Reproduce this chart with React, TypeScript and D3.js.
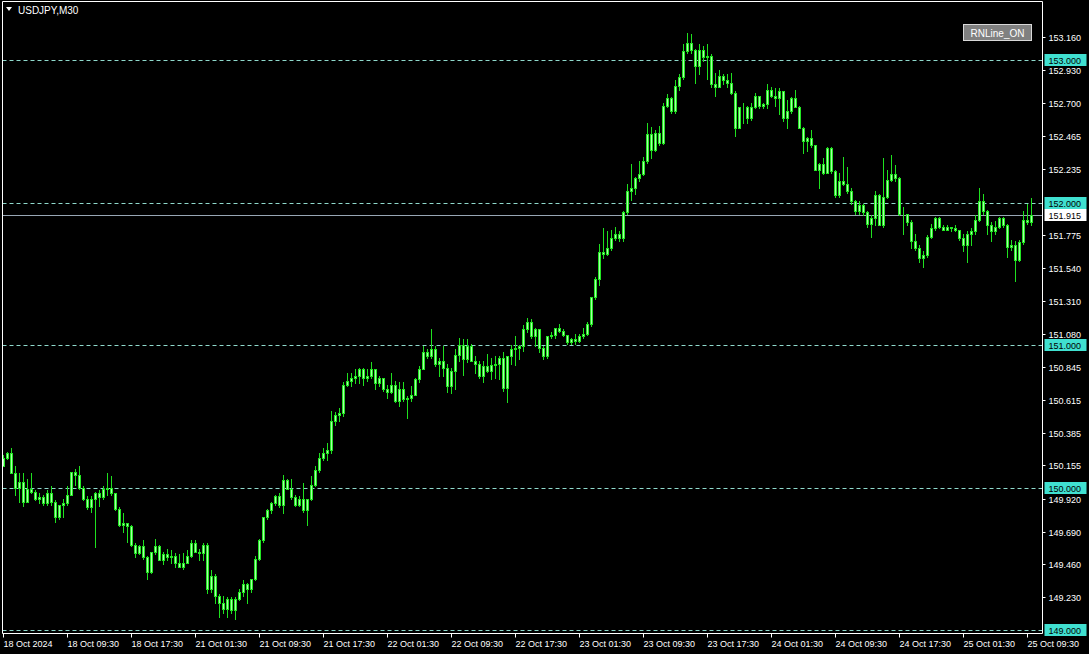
import React, { useEffect, useRef } from 'react';
import * as d3 from 'd3';

// USDJPY M30, 18 Oct 2024 01:30 -> 25 Oct 2024 10:30
const firstOpen = 150.15;
const closes = [
  150.21, 150.24, 150.10, 150.00, 150.04, 149.90, 149.99, 149.97, 149.92, 149.93,
  149.89, 149.96, 149.90, 149.79, 149.88, 149.89, 149.95, 150.11, 150.09, 150.00,
  149.92, 149.86, 149.92, 149.96, 149.93, 149.99, 150.00, 149.96, 149.85, 149.74,
  149.75, 149.73, 149.60, 149.54, 149.59, 149.51, 149.41, 149.55, 149.59, 149.49,
  149.53, 149.51, 149.52, 149.47, 149.44, 149.47, 149.52, 149.61, 149.55, 149.54,
  149.60, 149.29, 149.38, 149.24, 149.19, 149.15, 149.22, 149.14, 149.22, 149.27,
  149.32, 149.29, 149.36, 149.50, 149.63, 149.79, 149.84, 149.89, 149.94, 149.88,
  150.05, 149.99, 149.93, 149.88, 149.92, 149.84, 149.92, 150.02, 150.12, 150.21,
  150.24, 150.26, 150.47, 150.51, 150.52, 150.72, 150.75, 150.77, 150.78, 150.83,
  150.77, 150.78, 150.83, 150.73, 150.77, 150.69, 150.67, 150.72, 150.61, 150.69,
  150.62, 150.63, 150.65, 150.76, 150.83, 150.95, 150.92, 150.97, 150.87, 150.89,
  150.84, 150.71, 150.82, 150.93, 151.00, 150.90, 150.99, 150.89, 150.87, 150.78,
  150.85, 150.82, 150.86, 150.87, 150.91, 150.70, 150.92, 150.97, 150.98, 150.99,
  151.11, 151.16, 151.06, 151.11, 150.98, 150.92, 151.06, 151.07, 151.12, 151.10,
  151.07, 151.02, 151.04, 151.03, 151.06, 151.08, 151.15, 151.34, 151.46, 151.65,
  151.64, 151.68, 151.75, 151.78, 151.75, 151.93, 152.08, 152.10, 152.17, 152.20,
  152.29, 152.48, 152.37, 152.49, 152.42, 152.68, 152.73, 152.64, 152.82, 152.88,
  153.06, 153.12, 153.07, 152.96, 153.07, 153.02, 153.03, 152.83, 152.81, 152.89,
  152.86, 152.84, 152.77, 152.52, 152.67, 152.67, 152.59, 152.67, 152.75, 152.68,
  152.69, 152.79, 152.75, 152.73, 152.78, 152.59, 152.64, 152.73, 152.67, 152.52,
  152.43, 152.45, 152.40, 152.23, 152.27, 152.21, 152.38, 152.22, 152.05, 152.15,
  152.13, 152.08, 152.01, 151.94, 151.98, 151.93, 151.85, 151.89, 152.05, 151.84,
  152.04, 152.16, 152.20, 152.17, 151.92, 151.92, 151.86, 151.73, 151.68, 151.61,
  151.63, 151.76, 151.82, 151.89, 151.83, 151.81, 151.83, 151.82, 151.81, 151.75,
  151.70, 151.78, 151.80, 151.88, 152.01, 151.94, 151.84, 151.80, 151.83, 151.89,
  151.84, 151.69, 151.70, 151.60, 151.72, 151.88, 151.86, 151.915,
];
const highs = [
  150.23, 150.25, 150.28, 150.15, 150.10, 150.10, 150.06, 150.10, 149.98, 149.96,
  149.95, 149.98, 150.01, 149.91, 149.88, 149.92, 150.01, 150.11, 150.13, 150.15,
  150.01, 149.94, 149.94, 149.97, 149.98, 150.01, 150.10, 150.08, 149.96, 149.86,
  149.82, 149.74, 149.74, 149.61, 149.60, 149.63, 149.52, 149.55, 149.64, 149.60,
  149.55, 149.57, 149.56, 149.54, 149.53, 149.54, 149.56, 149.63, 149.63, 149.57,
  149.61, 149.61, 149.42, 149.39, 149.25, 149.24, 149.23, 149.23, 149.23, 149.29,
  149.35, 149.33, 149.36, 149.52, 149.64, 149.79, 149.85, 149.90, 149.95, 149.96,
  150.09, 150.06, 150.06, 149.95, 149.94, 150.03, 149.92, 150.08, 150.15, 150.24,
  150.28, 150.31, 150.54, 150.53, 150.56, 150.74, 150.80, 150.80, 150.83, 150.84,
  150.84, 150.83, 150.88, 150.78, 150.78, 150.74, 150.72, 150.80, 150.75, 150.74,
  150.74, 150.64, 150.71, 150.77, 150.85, 150.99, 150.97, 151.11, 150.99, 150.91,
  150.99, 150.87, 150.84, 150.97, 151.05, 151.04, 151.04, 151.01, 150.92, 150.89,
  150.89, 150.94, 150.91, 150.92, 150.92, 150.95, 150.92, 151.00, 151.06, 151.00,
  151.14, 151.19, 151.18, 151.12, 151.11, 150.99, 151.06, 151.09, 151.12, 151.15,
  151.11, 151.04, 151.05, 151.08, 151.08, 151.12, 151.16, 151.34, 151.48, 151.71,
  151.82, 151.80, 151.81, 151.83, 151.80, 151.94, 152.13, 152.27, 152.18, 152.29,
  152.32, 152.56, 152.53, 152.51, 152.54, 152.70, 152.76, 152.74, 152.86, 152.90,
  153.11, 153.19, 153.18, 153.08, 153.11, 153.10, 153.11, 153.04, 152.91, 152.93,
  152.90, 152.90, 152.91, 152.78, 152.67, 152.70, 152.68, 152.70, 152.77, 152.70,
  152.70, 152.83, 152.81, 152.80, 152.80, 152.78, 152.72, 152.74, 152.79, 152.68,
  152.53, 152.46, 152.51, 152.40, 152.28, 152.31, 152.39, 152.39, 152.23, 152.21,
  152.32, 152.25, 152.10, 152.02, 152.01, 151.99, 151.94, 151.91, 152.08, 152.06,
  152.31, 152.23, 152.33, 152.26, 152.18, 151.97, 151.92, 151.88, 151.78, 151.70,
  151.66, 151.77, 151.85, 151.90, 151.90, 151.84, 151.84, 151.83, 151.84, 151.81,
  151.78, 151.80, 151.82, 151.91, 152.10, 152.06, 151.95, 151.86, 151.87, 151.90,
  151.90, 151.85, 151.74, 151.73, 151.74, 151.94, 151.99, 152.03,
];
const lows = [
  150.15, 150.20, 150.10, 149.95, 149.90, 149.87, 149.91, 149.96, 149.91, 149.89,
  149.88, 149.88, 149.88, 149.76, 149.78, 149.79, 149.88, 149.95, 150.02, 149.99,
  149.91, 149.85, 149.83, 149.58, 149.87, 149.92, 149.95, 149.95, 149.84, 149.73,
  149.69, 149.62, 149.59, 149.51, 149.53, 149.50, 149.36, 149.40, 149.53, 149.49,
  149.46, 149.49, 149.47, 149.44, 149.44, 149.43, 149.47, 149.51, 149.56, 149.49,
  149.49, 149.26, 149.27, 149.19, 149.09, 149.12, 149.09, 149.12, 149.08, 149.21,
  149.24, 149.19, 149.27, 149.35, 149.49, 149.62, 149.78, 149.82, 149.88, 149.86,
  149.82, 149.99, 149.92, 149.87, 149.87, 149.83, 149.74, 149.91, 150.01, 150.11,
  150.19, 150.19, 150.24, 150.44, 150.47, 150.50, 150.71, 150.71, 150.73, 150.73,
  150.72, 150.75, 150.77, 150.69, 150.71, 150.68, 150.63, 150.66, 150.60, 150.57,
  150.61, 150.49, 150.61, 150.65, 150.74, 150.83, 150.91, 150.91, 150.85, 150.78,
  150.78, 150.67, 150.66, 150.69, 150.89, 150.79, 150.88, 150.89, 150.80, 150.77,
  150.74, 150.81, 150.76, 150.77, 150.76, 150.68, 150.60, 150.87, 150.86, 150.90,
  150.96, 151.09, 151.05, 150.99, 150.95, 150.90, 150.91, 151.05, 151.05, 151.09,
  151.06, 151.01, 151.01, 151.01, 151.02, 151.05, 151.07, 151.13, 151.32, 151.42,
  151.61, 151.63, 151.67, 151.74, 151.73, 151.73, 151.92, 152.02, 152.06, 152.15,
  152.19, 152.28, 152.31, 152.36, 152.40, 152.41, 152.67, 152.63, 152.63, 152.79,
  152.87, 153.05, 153.05, 152.84, 152.90, 152.99, 152.87, 152.81, 152.75, 152.81,
  152.83, 152.81, 152.76, 152.47, 152.52, 152.56, 152.56, 152.58, 152.66, 152.66,
  152.66, 152.66, 152.74, 152.68, 152.62, 152.57, 152.52, 152.63, 152.67, 152.52,
  152.35, 152.36, 152.39, 152.23, 152.10, 152.20, 152.21, 152.21, 152.04, 152.04,
  152.12, 152.07, 151.99, 151.92, 151.92, 151.91, 151.83, 151.76, 151.84, 151.84,
  151.83, 152.03, 152.15, 152.15, 151.91, 151.78, 151.84, 151.68, 151.67, 151.58,
  151.55, 151.62, 151.75, 151.81, 151.82, 151.81, 151.81, 151.80, 151.80, 151.74,
  151.66, 151.58, 151.70, 151.78, 151.87, 151.92, 151.78, 151.73, 151.78, 151.82,
  151.83, 151.62, 151.67, 151.45, 151.59, 151.71, 151.85, 151.84,
];

// time axis: one label every 16 bars (8 hours)
const timeLabels = [
  '18 Oct 2024', '18 Oct 09:30', '18 Oct 17:30', '21 Oct 01:30', '21 Oct 09:30',
  '21 Oct 17:30', '22 Oct 01:30', '22 Oct 09:30', '22 Oct 17:30', '23 Oct 01:30',
  '23 Oct 09:30', '23 Oct 17:30', '24 Oct 01:30', '24 Oct 09:30', '24 Oct 17:30',
  '25 Oct 01:30', '25 Oct 09:30',
];
const barsPerLabel = 16;

const priceTicks = [
  153.16, 152.93, 152.7, 152.465, 152.235, 151.775, 151.54, 151.31, 151.08,
  150.845, 150.615, 150.385, 150.155, 149.92, 149.69, 149.46, 149.23,
];
const roundLevels = [153, 152, 151, 150, 149];
const bidPrice = 151.915;

const W = 1089;
const H = 654;

const App = () => {
  const ref = useRef<SVGSVGElement | null>(null);

  useEffect(() => {
    const svg = d3.select(ref.current);
    svg.selectAll('*').remove();

    const left = 2.5, right = 1042.5, top = 1.5, bottom = 633.5;
    const font = '"Liberation Sans", Arial, sans-serif';

    const x = d3.scaleLinear()
      .domain([0, closes.length - 1])
      .range([3.5, 3.5 + 4 * (closes.length - 1)]);
    const y = d3.scaleLinear().domain([149, 153]).range([630, 60]);
    const py = (v: number) => Math.round(y(v)) + 0.5; // crisp pixel row
    const fmt = d3.format('.3f');

    svg.append('rect').attr('width', W).attr('height', H).attr('fill', '#000');

    svg.append('defs').append('clipPath').attr('id', 'plot')
      .append('rect').attr('x', left).attr('y', top)
      .attr('width', right - left).attr('height', bottom - top);

    const plot = svg.append('g').attr('clip-path', 'url(#plot)');

    // round number lines
    plot.selectAll('line.rn')
      .data(roundLevels)
      .enter()
      .append('line')
      .attr('x1', left).attr('x2', right)
      .attr('y1', d => py(d)).attr('y2', d => py(d))
      .attr('stroke', '#8fd9cc')
      .attr('stroke-dasharray', '4,3');

    // bid line
    plot.append('line')
      .attr('x1', left).attr('x2', right)
      .attr('y1', py(bidPrice)).attr('y2', py(bidPrice))
      .attr('stroke', '#98a6b4');

    const bars = closes.map((c, i) => {
      const o = i === 0 ? firstOpen : closes[i - 1];
      return {
        i, o, c,
        h: Math.max(highs[i], o, c),
        l: Math.min(lows[i], o, c),
      };
    });

    // wicks
    plot.selectAll('line.wick')
      .data(bars)
      .enter()
      .append('line')
      .attr('x1', d => x(d.i)).attr('x2', d => x(d.i))
      .attr('y1', d => Math.round(y(d.h))).attr('y2', d => Math.round(y(d.l)) + 1)
      .attr('stroke', '#1fe01f');

    // bodies
    plot.selectAll('rect.body')
      .data(bars)
      .enter()
      .append('rect')
      .attr('x', d => x(d.i) - 1)
      .attr('y', d => py(Math.max(d.o, d.c)))
      .attr('width', 2)
      .attr('height', d => Math.max(0, Math.round(y(Math.min(d.o, d.c))) - Math.round(y(Math.max(d.o, d.c)))))
      .attr('fill', '#a8ffa8')
      .attr('stroke', '#22e622');

    // frame
    svg.append('path')
      .attr('d', `M${left},${bottom}V${top}H${right}V${bottom}H${left}`)
      .attr('fill', 'none')
      .attr('stroke', '#fff');

    // right price axis
    const axisG = svg.append('g');
    priceTicks.forEach(v => {
      const yy = py(v);
      axisG.append('line')
        .attr('x1', right).attr('x2', right + 3)
        .attr('y1', yy).attr('y2', yy)
        .attr('stroke', '#fff');
      axisG.append('text')
        .attr('x', right + 6).attr('y', yy + 3.5)
        .attr('fill', '#fff')
        .attr('font-family', font).attr('font-size', 9)
        .text(fmt(v));
    });

    const tag = (v: number, bg: string) => {
      const yy = Math.round(y(v));
      axisG.append('rect')
        .attr('x', right + 2).attr('y', yy - 6)
        .attr('width', 42).attr('height', 12)
        .attr('fill', bg);
      axisG.append('text')
        .attr('x', right + 6).attr('y', yy + 4)
        .attr('fill', '#000')
        .attr('font-family', font).attr('font-size', 9)
        .text(fmt(v));
    };
    roundLevels.forEach(v => tag(v, '#40e0d0'));
    tag(bidPrice, '#fff');

    // time axis
    const timeG = svg.append('g');
    timeLabels.forEach((t, k) => {
      const xx = x(k * barsPerLabel);
      timeG.append('line')
        .attr('x1', xx).attr('x2', xx)
        .attr('y1', bottom).attr('y2', bottom + 4)
        .attr('stroke', '#fff');
      timeG.append('text')
        .attr('x', xx).attr('y', 647)
        .attr('fill', '#fff')
        .attr('font-family', font).attr('font-size', 9)
        .text(t);
    });

    // title
    svg.append('path').attr('d', 'M6,7H12L9,11Z').attr('fill', '#fff');
    svg.append('text')
      .attr('x', 18).attr('y', 14)
      .attr('fill', '#fff')
      .attr('font-family', font).attr('font-size', 10)
      .text('USDJPY,M30');

    // RNLine button
    svg.append('rect')
      .attr('x', 963.5).attr('y', 24.5)
      .attr('width', 68).attr('height', 16)
      .attr('fill', '#808080')
      .attr('stroke', '#d8d8d8');
    svg.append('text')
      .attr('x', 997.5).attr('y', 36.5)
      .attr('text-anchor', 'middle')
      .attr('fill', '#fff')
      .attr('font-family', font).attr('font-size', 10)
      .text('RNLine_ON');
  }, []);

  return (
    <svg
      ref={ref}
      width={W}
      height={H}
      style={{ position: 'fixed', left: 0, top: 0, display: 'block' }}
    />
  );
};

export default App;
